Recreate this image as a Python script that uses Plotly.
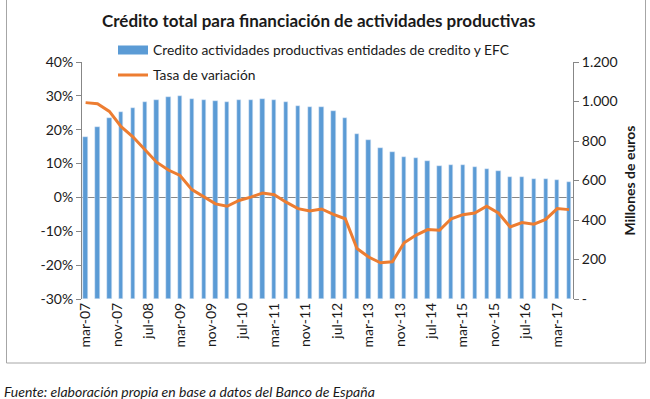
import plotly.graph_objects as go

# Quarterly observations (date axis)
quarters = [
    "2007-03-01", "2007-06-01", "2007-09-01", "2007-12-01",
    "2008-03-01", "2008-06-01", "2008-09-01", "2008-12-01",
    "2009-03-01", "2009-06-01", "2009-09-01", "2009-12-01",
    "2010-03-01", "2010-06-01", "2010-09-01", "2010-12-01",
    "2011-03-01", "2011-06-01", "2011-09-01", "2011-12-01",
    "2012-03-01", "2012-06-01", "2012-09-01", "2012-12-01",
    "2013-03-01", "2013-06-01", "2013-09-01", "2013-12-01",
    "2014-03-01", "2014-06-01", "2014-09-01", "2014-12-01",
    "2015-03-01", "2015-06-01", "2015-09-01", "2015-12-01",
    "2016-03-01", "2016-06-01", "2016-09-01", "2016-12-01",
    "2017-03-01", "2017-06-01",
]

# Credito actividades productivas (millones de euros)
credito = [
    818, 870, 914, 946, 966, 995, 1010, 1022, 1027, 1015, 1010, 1003,
    998, 1010, 1010, 1015, 1007, 998, 978, 973, 970, 951, 919, 833,
    805, 766, 746, 720, 712, 697, 673, 677, 677, 667, 658, 648,
    618, 618, 606, 606, 601, 592,
]

# Tasa de variacion (%)
tasa = [
    28.0, 27.7, 25.4, 20.9, 17.9, 14.0, 10.4, 8.1, 6.5, 2.3, 0.1, -1.9,
    -2.6, -0.9, 0.1, 1.3, 0.8, -1.4, -3.3, -4.0, -3.4, -5.0, -6.3, -15.1,
    -17.6, -19.3, -19.0, -13.4, -11.2, -9.5, -9.7, -6.3, -5.1, -4.6, -2.6, -4.6,
    -8.7, -7.4, -7.9, -6.5, -3.3, -3.6,
]

# X tick labels (every 8 months)
tick_dates = [
    "2007-03-01", "2007-11-01", "2008-07-01", "2009-03-01", "2009-11-01",
    "2010-07-01", "2011-03-01", "2011-11-01", "2012-07-01", "2013-03-01",
    "2013-11-01", "2014-07-01", "2015-03-01", "2015-11-01", "2016-07-01",
    "2017-03-01",
]
tick_text = [
    "mar-07", "nov-07", "jul-08", "mar-09", "nov-09", "jul-10", "mar-11",
    "nov-11", "jul-12", "mar-13", "nov-13", "jul-14", "mar-15", "nov-15",
    "jul-16", "mar-17",
]

right_vals = [0, 200, 400, 600, 800, 1000, 1200]
right_text = ["-", "200", "400", "600", "800", "1.000", "1.200"]
left_vals = [-30, -20, -10, 0, 10, 20, 30, 40]
left_text = ["-30%", "-20%", "-10%", "0%", "10%", "20%", "30%", "40%"]

BLUE = "#5B9BD5"
ORANGE = "#ED7D31"
FONT = "Lato"
TXT = "#1a1a1a"
GRID = "#878787"

W, H = 650, 399
L, R, T, B = 82, 77, 62, 100
PW, PH = W - L - R, H - T - B


def px_x(p):
    return (p - L) / PW


def px_y(p):
    return (H - B - p) / PH


bar_width_ms = 33 * 24 * 3600 * 1000

fig = go.Figure()
fig.add_trace(go.Bar(
    x=quarters, y=credito, yaxis="y", marker_color=BLUE, width=bar_width_ms,
    showlegend=False, name="Credito actividades productivas entidades de credito y EFC",
))
# legend proxy for the bar series (wide blue swatch)
fig.add_trace(go.Scatter(
    x=[None], y=[None], mode="lines", line=dict(color=BLUE, width=9),
    name="Credito actividades productivas entidades de credito y EFC",
    legend="legend",
))
fig.add_trace(go.Scatter(
    x=quarters, y=tasa, yaxis="y2", mode="lines",
    line=dict(color=ORANGE, width=3), name="Tasa de variación",
    legend="legend2",
))

TICKFONT = dict(size=14, color=TXT)
LEGFONT = dict(size=13.8, color=TXT)

fig.update_layout(
    width=W, height=H,
    margin=dict(l=L, r=R, t=T, b=B),
    paper_bgcolor="white", plot_bgcolor="white",
    font=dict(family=FONT, size=13, color=TXT),
    bargap=0,
    xaxis=dict(
        type="date", range=["2007-02-01", "2017-07-01"],
        tickvals=tick_dates, ticktext=tick_text, tickangle=-90,
        showgrid=False, showline=False, ticks="", zeroline=False,
        tickfont=TICKFONT,
    ),
    yaxis=dict(
        side="right", range=[0, 1200], tickvals=right_vals, ticktext=right_text,
        showgrid=False, zeroline=False, showline=True, linecolor=GRID, linewidth=1,
        ticks="outside", ticklen=5, tickcolor=GRID,
        tickfont=TICKFONT,
        title=dict(text="<b>Millones de euros</b>", font=dict(size=14, color=TXT), standoff=8),
    ),
    yaxis2=dict(
        overlaying="y", side="left", range=[-30, 40], tickvals=left_vals, ticktext=left_text,
        showgrid=False, zeroline=True, zerolinecolor=GRID, zerolinewidth=1,
        showline=True, linecolor=GRID, linewidth=1,
        ticks="outside", ticklen=5, tickcolor=GRID,
        tickfont=TICKFONT,
    ),
    legend=dict(x=px_x(113), y=px_y(50), xanchor="left", yanchor="middle",
                bgcolor="rgba(0,0,0,0)", font=LEGFONT),
    legend2=dict(x=px_x(113), y=px_y(75), xanchor="left", yanchor="middle",
                 bgcolor="rgba(0,0,0,0)", font=LEGFONT),
    annotations=[
        dict(text="<b>Crédito total para financiación de actividades productivas</b>",
             xref="paper", yref="paper", x=px_x(318), y=px_y(21),
             xanchor="center", yanchor="middle", showarrow=False,
             font=dict(size=17, color=TXT)),
        dict(text="<i>Fuente: elaboración propia en base a datos del Banco de España</i>",
             xref="paper", yref="paper", x=px_x(2), y=px_y(391),
             xanchor="left", yanchor="middle", showarrow=False,
             font=dict(size=14, color=TXT)),
    ],
    shapes=[
        dict(type="rect", xref="paper", yref="paper",
             x0=px_x(6.5), x1=px_x(645.5), y0=px_y(363), y1=px_y(-10),
             line=dict(color="#a6a6a6", width=1), fillcolor="rgba(0,0,0,0)", layer="below"),
    ],
)

fig.write_html(
    "out.html",
    config={"displayModeBar": False},
    post_script="document.body.style.margin='0';document.body.style.overflow='hidden';",
)
